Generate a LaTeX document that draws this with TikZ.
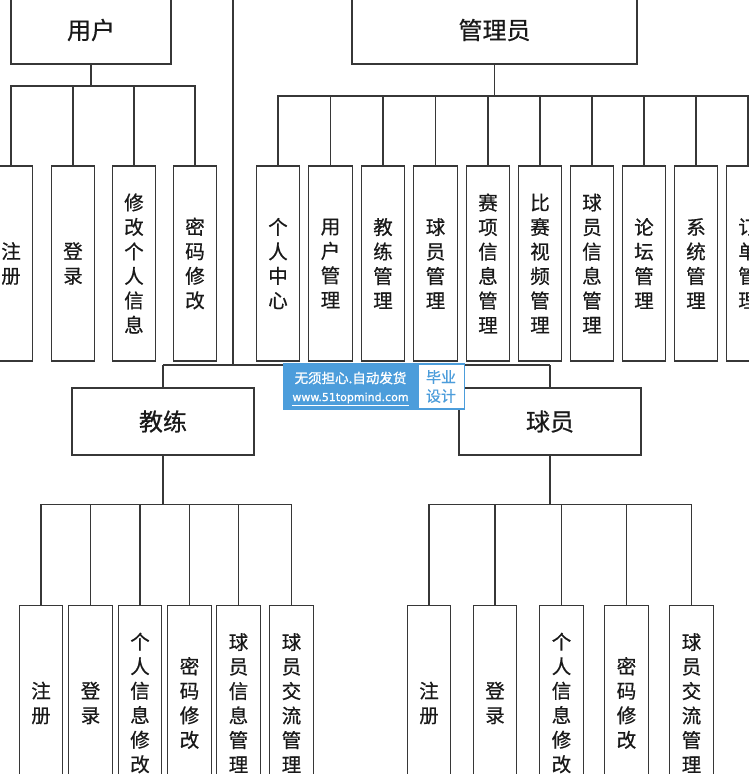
\documentclass[tikz,border=0pt]{standalone}
\usepackage{fontspec}
\newfontfamily\cjk[FakeBold=0.6]{Noto Sans CJK SC}
\newfontfamily\cjkb[FakeBold=1.2]{Noto Sans CJK SC}
\newfontfamily\wmsans[FakeBold=1.2]{DejaVu Sans}
\definecolor{wmblue}{RGB}{76,157,219}
\definecolor{edge}{RGB}{55,55,55}
\tikzset{
  conn/.style={draw=edge, line width=1.3pt},
  topbox/.style={draw=edge, line width=1.3pt, fill=white, inner sep=0pt,
    font=\cjk\fontsize{24}{28}\selectfont, text=black!90},
  leafbox/.style={draw=edge, line width=1.3pt, fill=white, inner sep=0pt,
    minimum width=43.5pt, minimum height=195pt, align=center,
    font=\cjk\fontsize{19.5}{24.5}\selectfont, text=black!90},
}
\begin{document}
\begin{tikzpicture}[x=1pt,y=-1pt]
\useasboundingbox (0,0) rectangle (749,774);
\clip (0,0) rectangle (749,774);
\fill[white] (0,0) rectangle (749,774);

% top-level boxes
\node[topbox, minimum width=160pt, minimum height=68pt] (user) at (91,30) {用户};
\node[topbox, minimum width=285pt, minimum height=68pt] (admin) at (494.5,30) {管理员};
\node[topbox, minimum width=182pt, minimum height=67pt] (coach) at (163,421.5) {教练};
\node[topbox, minimum width=182pt, minimum height=67pt] (player) at (550,421.5) {球员};

% trunk
\coordinate (trunkTop) at (233,-10);
\coordinate (trunkJ) at (233,365);
\coordinate (trunkL) at (163,365);
\coordinate (trunkR) at (550,365);
\draw[conn] (trunkTop) -- (trunkJ);
\draw[conn] (trunkL) -- (trunkR);
\draw[conn] (trunkL) -- (coach.north);
\draw[conn] (trunkR) -- (player.north);

% user leaves
\coordinate (busU) at (91,86);
\draw[conn] (user.south) -- (busU);
\foreach \x/\n/\t in {11/u1/{注\\册}, 73/u2/{登\\录}, 134/u3/{修\\改\\个\\人\\信\\息}, 195/u4/{密\\码\\修\\改}}{
  \node[leafbox] (\n) at (\x,263.5) {\t};
  \draw[conn] (busU) -| (\n.north);
}

% admin leaves
\coordinate (busA) at (494.5,96);
\draw[conn] (admin.south) -- (busA);
\foreach \x/\n/\t in {278/a1/{个\\人\\中\\心}, 330.5/a2/{用\\户\\管\\理}, 383/a3/{教\\练\\管\\理}, 435.5/a4/{球\\员\\管\\理}, 488/a5/{赛\\项\\信\\息\\管\\理}, 540/a6/{比\\赛\\视\\频\\管\\理}, 592/a7/{球\\员\\信\\息\\管\\理}, 644/a8/{论\\坛\\管\\理}, 696/a9/{系\\统\\管\\理}, 748/a10/{订\\单\\管\\理}}{
  \node[leafbox] (\n) at (\x,263.5) {\t};
  \draw[conn] (busA) -| (\n.north);
}

% coach leaves
\coordinate (busC) at (163,504.5);
\draw[conn] (coach.south) -- (busC);
\foreach \x/\n/\t in {41/c1/{注\\册}, 90.5/c2/{登\\录}, 140/c3/{个\\人\\信\\息\\修\\改}, 189.5/c4/{密\\码\\修\\改}, 238.5/c5/{球\\员\\信\\息\\管\\理}, 291.5/c6/{球\\员\\交\\流\\管\\理}}{
  \node[leafbox] (\n) at (\x,703) {\t};
  \draw[conn] (busC) -| (\n.north);
}

% player leaves
\coordinate (busP) at (550,504.5);
\draw[conn] (player.south) -- (busP);
\foreach \x/\n/\t in {429/p1/{注\\册}, 495/p2/{登\\录}, 561.5/p3/{个\\人\\信\\息\\修\\改}, 626.5/p4/{密\\码\\修\\改}, 691.5/p5/{球\\员\\交\\流\\管\\理}}{
  \node[leafbox] (\n) at (\x,703) {\t};
  \draw[conn] (busP) -| (\n.north);
}

% watermark
\node[fill=wmblue, inner sep=0pt, minimum width=182pt, minimum height=47pt, anchor=north west] (wm) at (283,363) {};
\node[fill=white, inner sep=0pt, minimum width=45pt, minimum height=43pt, anchor=north west] (wmw) at (418.5,364.5) {};
\node[text=white, inner sep=0pt, font=\cjkb\fontsize{13.5}{14}\selectfont] (wmt1) at (350.5,378) {无须担心.自动发货};
\node[text=white, inner sep=0pt, font=\wmsans\fontsize{11}{12}\selectfont] (wmt2) at (350.5,399) {\underline{www.51topmind.com}};
\node[text=wmblue, inner sep=0pt, align=center, font=\cjk\fontsize{15}{19}\selectfont] (wmt3) at (441,386.5) {毕业\\设计};
\end{tikzpicture}
\end{document}
